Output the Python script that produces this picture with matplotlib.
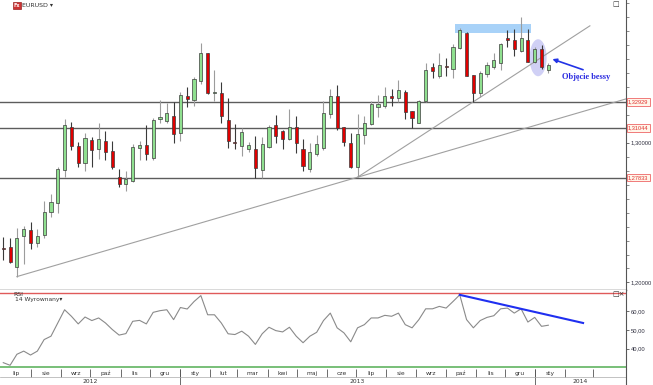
import matplotlib
matplotlib.use('Agg')
import matplotlib.pyplot as plt
import matplotlib.transforms as mtransforms
from matplotlib.patches import Rectangle, Ellipse
import numpy as np
import pandas as pd

# ---------------- data (weekly EURUSD candles) ----------------
first_week = '2012-07-02'
opens = [1.2245, 1.2256, 1.2109, 1.2333, 1.2376, 1.2281, 1.2340, 1.2507, 1.2567, 1.2805,
         1.3114, 1.2976, 1.2853, 1.3019, 1.2953, 1.3012, 1.2943, 1.2753, 1.2705, 1.2728,
         1.2964, 1.2984, 1.2893, 1.3172, 1.3157, 1.3191, 1.3067, 1.3334, 1.3305, 1.3443,
         1.3639, 1.3353, 1.3358, 1.3162, 1.3007, 1.2979, 1.2953, 1.2953, 1.2805, 1.2967,
         1.3127, 1.3084, 1.3024, 1.3110, 1.2955, 1.2810, 1.2919, 1.2960, 1.3203, 1.3336,
         1.3110, 1.3000, 1.2824, 1.3055, 1.3134, 1.3253, 1.3262, 1.3336, 1.3317, 1.3365,
         1.3227, 1.3143, 1.3300, 1.3539, 1.3479, 1.3548, 1.3527, 1.3675, 1.3787, 1.3484,
         1.3353, 1.3491, 1.3539, 1.3572, 1.3746, 1.3734, 1.3656, 1.3734, 1.3579, 1.3668,
         1.3520]
highs = [1.2328, 1.2316, 1.2388, 1.2404, 1.2435, 1.2381, 1.2585, 1.2633, 1.2824, 1.3167,
         1.3150, 1.3007, 1.3067, 1.3043, 1.3143, 1.3084, 1.3014, 1.2810, 1.2800, 1.2991,
         1.3012, 1.3127, 1.3174, 1.3305, 1.3286, 1.3293, 1.3365, 1.3400, 1.3472, 1.3711,
         1.3644, 1.3520, 1.3432, 1.3317, 1.3134, 1.3103, 1.3007, 1.3048, 1.3039, 1.3127,
         1.3198, 1.3091, 1.3239, 1.3191, 1.3024, 1.2996, 1.3055, 1.3300, 1.3382, 1.3413,
         1.3114, 1.3072, 1.3203, 1.3191, 1.3300, 1.3341, 1.3400, 1.3382, 1.3448, 1.3377,
         1.3227, 1.3305, 1.3568, 1.3568, 1.3644, 1.3603, 1.3706, 1.3818, 1.3794, 1.3484,
         1.3515, 1.3579, 1.3644, 1.3711, 1.3806, 1.3811, 1.3897, 1.3811, 1.3682, 1.3699,
         1.3568]
lows = [1.2161, 1.2142, 1.2042, 1.2133, 1.2238, 1.2256, 1.2316, 1.2467, 1.2500, 1.2753,
        1.2948, 1.2828, 1.2800, 1.2824, 1.2886, 1.2876, 1.2810, 1.2685, 1.2657, 1.2717,
        1.2876, 1.2876, 1.2876, 1.3139, 1.3139, 1.2996, 1.3012, 1.3253, 1.3262, 1.3420,
        1.3345, 1.3300, 1.3139, 1.2960, 1.2953, 1.2905, 1.2931, 1.2745, 1.2745, 1.2960,
        1.3000, 1.2953, 1.3019, 1.2928, 1.2800, 1.2793, 1.2905, 1.2948, 1.3179, 1.3091,
        1.2976, 1.2817, 1.2753, 1.2991, 1.3127, 1.3186, 1.3246, 1.3262, 1.3293, 1.3167,
        1.3103, 1.3143, 1.3293, 1.3460, 1.3460, 1.3479, 1.3460, 1.3668, 1.3475, 1.3293,
        1.3329, 1.3472, 1.3525, 1.3520, 1.3686, 1.3620, 1.3651, 1.3575, 1.3568, 1.3525,
        1.3496]
closes = [1.2241, 1.2149, 1.2316, 1.2381, 1.2281, 1.2333, 1.2507, 1.2574, 1.2812, 1.3127,
          1.2976, 1.2857, 1.3031, 1.2948, 1.3024, 1.2936, 1.2824, 1.2705, 1.2740, 1.2967,
          1.2984, 1.2919, 1.3162, 1.3184, 1.3210, 1.3062, 1.3341, 1.3315, 1.3455, 1.3639,
          1.3353, 1.3363, 1.3191, 1.3014, 1.2996, 1.3074, 1.2984, 1.2817, 1.2991, 1.3110,
          1.3048, 1.3024, 1.3114, 1.2996, 1.2833, 1.2936, 1.2991, 1.3210, 1.3336, 1.3103,
          1.3007, 1.2824, 1.3060, 1.3139, 1.3277, 1.3277, 1.3336, 1.3322, 1.3377, 1.3222,
          1.3174, 1.3298, 1.3520, 1.3515, 1.3556, 1.3539, 1.3686, 1.3806, 1.3479, 1.3358,
          1.3496, 1.3556, 1.3591, 1.3706, 1.3734, 1.3668, 1.3746, 1.3579, 1.3668, 1.3539,
          1.3556]
rsi = [32.5, 31.1, 37.0, 38.7, 36.6, 38.7, 44.9, 46.7, 53.8, 60.9,
       57.4, 53.3, 57.0, 55.1, 56.5, 53.8, 50.3, 47.3, 48.1, 54.7,
       55.2, 53.3, 59.5, 60.4, 60.9, 55.6, 62.1, 61.3, 65.3, 68.5,
       58.2, 58.2, 53.8, 48.0, 47.6, 49.4, 46.7, 42.3, 48.0, 51.5,
       49.7, 49.0, 51.5, 46.7, 43.2, 46.7, 48.8, 55.1, 59.1, 51.2,
       48.5, 43.7, 51.2, 52.9, 56.5, 56.5, 57.9, 57.4, 59.1, 52.9,
       51.2, 55.6, 61.4, 61.4, 62.7, 61.8, 65.3, 68.9, 55.6, 51.2,
       55.1, 56.8, 57.7, 61.4, 61.8, 59.1, 61.4, 54.3, 56.8, 52.0,
       52.6]
level_values = [1.32929, 1.31044, 1.2750]
level_labels = ['1,32929', '1,31044', '1,27833']
price_ticks = [1.20, 1.30]
price_tick_labels = ['1,20000', '1,30000']
rsi_ticks = [40, 50, 60]
rsi_tick_labels = ['40,00', '50,00', '60,00']
month_labels = ['lip', 'sie', 'wrz', 'paź', 'lis', 'gru', 'sty', 'lut', 'mar', 'kwi', 'maj',
                'cze', 'lip', 'sie', 'wrz', 'paź', 'lis', 'gru', 'sty', '', '']
year_labels = ['2012', '2013', '2014']
rsi_div_end = (85.1, 53.8)

# ---------------- layout ----------------
W, H = 653, 385
fig = plt.figure(figsize=(W / 100, H / 100), dpi=100)
fig.patch.set_facecolor('white')
SMALL = 'Liberation Sans'


def box(l, t, r, b):
    return [l / W, 1 - b / H, (r - l) / W, (b - t) / H]


XMIN, XMAX = -0.48, 91.4
ax = fig.add_axes(box(0, 0, 626, 290))
axr = fig.add_axes(box(0, 290, 626, 369))
axx = fig.add_axes(box(0, 369, 626, 385))

o, h, l, c = map(np.array, (opens, highs, lows, closes))
x = np.arange(len(o))
up = c >= o

# ---------------- main price panel ----------------
ax.set_xlim(XMIN, XMAX)
ax.set_ylim(1.1946, 1.4021)

for v in level_values:
    ax.axhline(v, color='#5c5c5c', lw=1.0, zorder=1)

# highlight shapes
ax.add_patch(Rectangle((66.3, 1.3787), 11.1, 0.0062, fc='#a8d2f8', ec='none', zorder=1))
ax.add_patch(Ellipse((78.5, 1.3608), 2.5, 0.0265, fc='#c8c8f4', ec='none', alpha=0.85, zorder=1))

# trend lines
slope1 = (l[52] - l[2]) / (52 - 2)
xs1 = np.array([2, XMAX])
ax.plot(xs1, l[2] + slope1 * (xs1 - 2), color='#a0a0a0', lw=0.8, zorder=1.5)
slope2 = (l[69] - l[52]) / (69 - 52)
xs2 = np.array([52, 86.1])
ax.plot(xs2, l[52] + slope2 * (xs2 - 52), color='#a0a0a0', lw=0.8, zorder=1.5)

# candles
ax.vlines(x[up], l[up], h[up], color='#9c9c9c', lw=0.8, zorder=2)
ax.vlines(x[~up], l[~up], h[~up], color='#3a3a3a', lw=0.8, zorder=2)
body = np.maximum(np.abs(c - o), 0.0005)
ax.bar(x, body, bottom=np.minimum(o, c), width=0.46,
       color=np.where(up, '#8fdf8f', '#e00000'), edgecolor='#3c3c3c', linewidth=0.5, zorder=3)

# annotation
ax.annotate('', xy=(80.6, 1.3598), xytext=(85.1, 1.3522),
            arrowprops=dict(arrowstyle='-|>', color='#2233e6', lw=1.2, mutation_scale=6,
                            shrinkA=0, shrinkB=0), zorder=4)
ax.text(85.6, 1.3468, 'Objęcie bessy', ha='center', va='center', fontsize=6,
        color='#2a2ae0', fontweight='bold', family='Liberation Serif', zorder=4)

# right axis
ax.yaxis.tick_right()
ax.set_yticks(price_ticks)
ax.set_yticklabels(price_tick_labels, family=SMALL)
ax.set_yticks(np.arange(1.20, 1.405, 0.01), minor=True)
ax.tick_params(axis='y', which='major', labelsize=4.2, length=2.5, width=0.6, pad=1,
               colors='#555', labelcolor='#303040')
ax.tick_params(axis='y', which='minor', length=1.8, width=0.6, colors='#777')
ax.set_xticks([])
for s in ('left', 'top'):
    ax.spines[s].set_visible(False)
ax.spines['right'].set_color('#555')
ax.spines['right'].set_linewidth(0.8)
ax.spines['bottom'].set_color('#444')
ax.spines['bottom'].set_linewidth(1.0)

trans = mtransforms.blended_transform_factory(ax.transAxes, ax.transData)
for v, lab in zip(level_values, level_labels):
    ax.text(1.0 + 2.0 / 626, v, lab, transform=trans, ha='left', va='center', fontsize=4.1,
            family=SMALL, color='#e03030', clip_on=False,
            bbox=dict(boxstyle='square,pad=0.22', fc='#fff6ea', ec='#f07a7a', lw=0.7))

# ---------------- RSI panel ----------------
axr.set_xlim(XMIN, XMAX)
axr.set_ylim(29.1, 71.5)
axr.axhline(70, color='#e05a5a', lw=1.0)
axr.axhline(30, color='#78bf78', lw=1.4)
axr.plot(x, rsi, color='#8a8a8a', lw=0.8)
axr.plot([67, rsi_div_end[0]], [rsi[67], rsi_div_end[1]], color='#1f2ff0', lw=1.5)
axr.yaxis.tick_right()
axr.set_yticks(rsi_ticks)
axr.set_yticklabels(rsi_tick_labels, family=SMALL)
axr.tick_params(axis='y', labelsize=4.2, length=2.5, width=0.6, pad=1, colors='#555',
                labelcolor='#303040')
axr.set_xticks([])
for s in ('left', 'top', 'bottom'):
    axr.spines[s].set_visible(False)
axr.spines['right'].set_color('#555')
axr.spines['right'].set_linewidth(0.8)

# ---------------- date strip ----------------
axx.set_xlim(XMIN, XMAX)
axx.set_ylim(0, 1)
axx.axis('off')
start = pd.Timestamp(first_week)


def pos(d):
    return ((pd.Timestamp(d) - start).days - 1.5) / 7


mstarts = pd.date_range('2012-07-01', periods=len(month_labels) + 1, freq='MS')
mb = np.clip([pos(d) for d in mstarts], XMIN, XMAX)
for i, lab in enumerate(month_labels):
    a, b = mb[i], mb[i + 1]
    if i > 0:
        axx.vlines(a, 0.5, 1.0, color='#555', lw=0.6)
    if lab:
        axx.text((a + b) / 2, 0.74, lab, ha='center', va='center', fontsize=4.3, color='#333')
ybounds = [XMIN, pos('2013-01-01'), pos('2014-01-01'), XMAX]
for i, lab in enumerate(year_labels):
    if i > 0:
        axx.vlines(ybounds[i], 0.0, 1.0, color='#555', lw=0.6)
    axx.text((ybounds[i] + ybounds[i + 1]) / 2, 0.22, lab, ha='center', va='center',
             fontsize=4.3, color='#333')
axx.axhline(0.5, color='#aaa', lw=0.5)
axx.vlines(XMAX, 0, 1, color='#555', lw=0.8, clip_on=False)


# ---------------- header texts ----------------
def ftext(xp, yp, s, **kw):
    fig.text(xp / W, 1 - yp / H, s, **kw)


fig.patches.append(Rectangle((13 / W, 1 - 9 / H), 8 / W, 7.5 / H, transform=fig.transFigure,
                             fc='#cc3333', ec='#992222', lw=0.5))
ftext(17, 5.2, 'Fx', ha='center', va='center', fontsize=3.5, color='white', fontweight='bold')
ftext(22, 5.2, 'EURUSD ▾', ha='left', va='center', fontsize=4.5, color='#333')
ftext(612, 4.5, '□', ha='left', va='center', fontsize=5, color='#333')
ftext(612, 294.5, '□×', ha='left', va='center', fontsize=5, color='#333')
ftext(13, 294, 'RSI', ha='left', va='center', fontsize=4.5, color='#333')
ftext(15, 300, '14 Wyrownany▾', ha='left', va='center', fontsize=4.3, color='#333')

fig.savefig('out.png', dpi=100, facecolor='white')
